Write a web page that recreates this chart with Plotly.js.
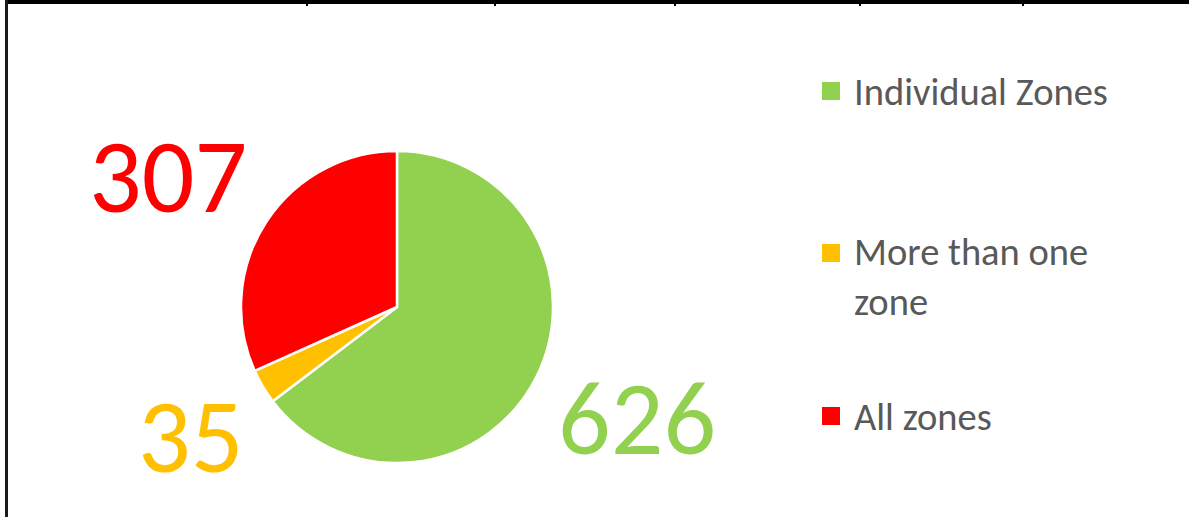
<!DOCTYPE html>
<html>
<head>
<meta charset="utf-8">
<script src="https://cdn.plot.ly/plotly-3.0.1.min.js"></script>
<style>html,body{margin:0;padding:0;background:#fff;}#chart{width:1189px;height:517px;}</style>
</head>
<body>
<div id="chart"></div>
<script>
const categories = ["Individual Zones", "More than one zone", "All zones"];
const legendLabels = ["Individual Zones", "More than one<br>zone", "All zones"];
const values = [626, 35, 307];
const colors = ["#92D050", "#FFC000", "#FF0000"];

const W = 1189, H = 517;
const px = x => x / W;
const py = y => 1 - y / H;
const FONT = "Carlito, Calibri, Lato, sans-serif";

// value label positions (pixel centres of the digits), one per category
const labelPos = [[637, 418], [190, 436], [168, 176]];
const legendY = [91, 276, 416];

const annotations = [];
values.forEach((v, i) => {
  annotations.push({
    xref: "paper", yref: "paper", x: px(labelPos[i][0]), y: py(labelPos[i][1]),
    xanchor: "center", yanchor: "middle", showarrow: false,
    text: String(v), font: {family: FONT, size: 104, color: colors[i]}
  });
  annotations.push({
    xref: "paper", yref: "paper", x: px(852), y: py(legendY[i]),
    xanchor: "left", yanchor: "middle", align: "left", showarrow: false,
    text: legendLabels[i], font: {family: FONT, size: 38.5, color: "#595959"}
  });
});

const legendSquareY = [91, 253, 416];
const shapes = [];
legendSquareY.forEach((y, i) => {
  shapes.push({type: "rect", xref: "paper", yref: "paper",
    x0: px(822), x1: px(840), y0: py(y + 9), y1: py(y - 9),
    fillcolor: colors[i], line: {width: 0}});
});
// frame lines (table borders)
shapes.push({type: "rect", xref: "paper", yref: "paper", x0: px(5), x1: 1, y0: py(4), y1: 1, fillcolor: "#000", line: {width: 0}});
shapes.push({type: "rect", xref: "paper", yref: "paper", x0: px(5), x1: px(8), y0: 0, y1: 1, fillcolor: "#1a1a1a", line: {width: 0}});
[307, 495, 675, 860, 1023].forEach(x => {
  shapes.push({type: "rect", xref: "paper", yref: "paper", x0: px(x - 1), x1: px(x + 1), y0: py(6), y1: 1, fillcolor: "#000", line: {width: 0}});
});

const data = [{
  type: "pie",
  labels: categories,
  values: values,
  sort: false,
  direction: "clockwise",
  rotation: 0,
  textinfo: "none",
  hoverinfo: "label+value",
  marker: {colors: colors, line: {color: "#ffffff", width: 2.5}},
  domain: {x: [px(241), px(553)], y: [py(463), py(151)]},
  showlegend: false
}];

const layout = {
  width: W, height: H,
  margin: {l: 0, r: 0, t: 0, b: 0},
  paper_bgcolor: "#ffffff",
  showlegend: false,
  annotations: annotations,
  shapes: shapes,
  font: {family: FONT}
};

Plotly.newPlot("chart", data, layout, {displayModeBar: false, staticPlot: true});
</script>
</body>
</html>
